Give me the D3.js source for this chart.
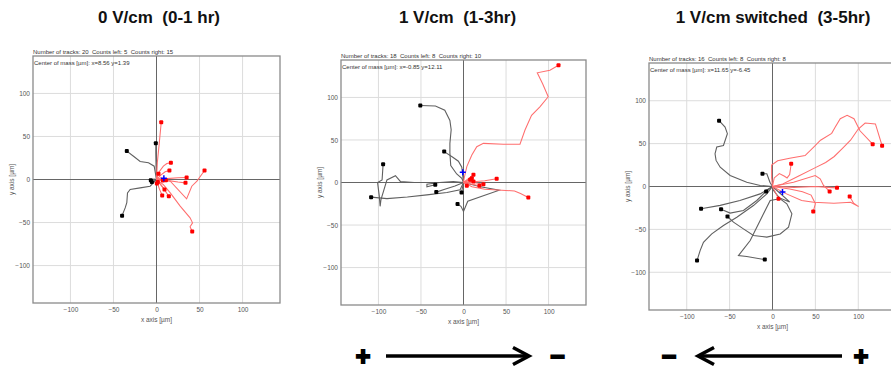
<!DOCTYPE html>
<html><head><meta charset="utf-8">
<script src="https://cdn.jsdelivr.net/npm/d3@7"></script>
<style>
html,body{margin:0;padding:0;background:#fff;}
svg{display:block;font-family:"Liberation Sans",Arial,sans-serif;}
text{white-space:pre;}
</style></head>
<body><svg id="c" width="891" height="371"></svg>
<script>
// ---------- data ----------
const tickValues = [-100, -50, 0, 50, 100];
const titles = ["0 V/cm  (0-1 hr)", "1 V/cm  (1-3hr)", "1 V/cm switched  (3-5hr)"];
const headers = [
  "Number of tracks: 20  Counts left: 5  Counts right: 15",
  "Number of tracks: 18  Counts left: 8  Counts right: 10",
  "Number of tracks: 16  Counts left: 8  Counts right: 8"
];
const centerLabels = [
  "Center of mass [µm]: x=8.56 y=1.39",
  "Center of mass [µm]: x=-0.85 y=12.11",
  "Center of mass [µm]: x=11.65 y=-6.45"
];
const centers = [[8.56, 1.39], [-0.85, 12.11], [11.65, -6.45]];
const xLabel = "x axis [µm]";
const yLabel = "y axis [µm]";

const p1Left = [
  [[0,0],[-2.7,15.5],[-9.3,19.4],[-19,21],[-26.7,27],[-34.5,33]],
  [[0,0],[-7.4,-7.8],[-19,-9.7],[-30.6,-11.6],[-33.7,-15.5],[-34.5,-27],[-36.4,-33],[-40,-42]],
  [[0,0],[-0.5,15],[-0.8,30],[-0.8,42]],
  [[0,0],[-3,0.5],[-6.6,-0.8]],
  [[0,0],[-3,-2],[-5.4,-3]]
];
const p1Right = [
  [[0,0],[1,20],[3,40],[5.5,66.6]],
  [[0,0],[2.3,8],[8,15.5],[12,18.6],[16.7,19.4]],
  [[0,0],[5,5],[10,9],[15,10.5]],
  [[0,0],[2.3,6.6]],
  [[0,0],[12,1],[25,2],[35,2.3]],
  [[0,0],[12,-1],[25,-3],[33.7,-3.9]],
  [[0,0],[16,-2],[35,-22.5],[41,-7.8],[47,-1.9],[55.8,10.5]],
  [[0,0],[8,-6],[16,-15.5],[27.5,-31],[39,-44.6],[41.9,-50.4],[39,-55],[41.5,-60.5]],
  [[0,0],[5,-6],[9.3,-11.6]],
  [[0,0],[3,-10],[6.6,-18.6]],
  [[0,0],[8,-10],[14.3,-19.4]],
  [[0,0],[1.5,-3]],
  [[0,0],[7.4,-1.2]],
  [[0,0],[5,2],[11,-0.8]],
  [[0,0],[0.4,-4.6]]
];
const p2Left = [
  [[0,0],[-2,5],[-8,10],[-15,20],[-16,35],[-16,46],[-14.5,62],[-16,73],[-22,85],[-33,90],[-50.8,90.6]],
  [[0,0],[-2,18],[-6,25],[-13,30],[-22.7,36.3]],
  [[0,0],[-12,0],[-39,0],[-58,0],[-74,1],[-80,8],[-90,3],[-97,-20],[-98,-28],[-99,-16],[-101,0],[-95.7,3],[-94.5,21.5]],
  [[0,0],[-4,-8.6],[-19.5,-11.7],[-43,-14.5],[-66,-17],[-90,-19],[-108.6,-17.2]],
  [[0,0],[-12,1],[-28,0],[-43,-2],[-43,-5],[-33.2,-2.7]],
  [[0,0],[-10,-4],[-22,-8],[-32,-11.3]],
  [[0,0],[-1,-5],[-2.3,-11.7]],
  [[0,0],[20,-5],[42,-9],[25,-15],[5,-22],[0,-34],[-3,-28],[-7,-25.4]]
];
const p2Right = [
  [[0,0],[0.8,5],[3.9,18.75],[9.8,32.4],[15.6,42],[23.4,46],[46.9,45],[66.4,45],[72.3,61.7],[80,79],[89.8,89],[99.6,100.8],[93,116],[86.7,129],[101.6,132],[111.7,137.9]],
  [[0,0],[10,-5],[25,-8],[45,-9],[60,-10],[67,-13],[76.2,-17.6]],
  [[0,0],[12,1],[25,2],[39,4.3]],
  [[0,0],[5,4],[11.7,9]],
  [[0,0],[9.8,5]],
  [[0,0],[12,0],[23.4,-2]],
  [[0,0],[10,-2],[18.75,-3.9]],
  [[0,0],[3.9,-3.9]],
  [[0,0],[11.7,1.2]],
  [[0,0],[7.8,3.1]]
];
const p3Left = [
  [[0,0],[-14.4,1.2],[-30,5],[-49.4,12.8],[-61,22.5],[-65.8,30.4],[-67,38.2],[-65,46],[-57.2,47.9],[-52.6,61.6],[-55.3,69.3],[-62.3,76.8]],
  [[0,0],[-3,5],[-6.6,14.8],[-11.7,14.8]],
  [[0,0],[-4,-3],[-7.4,-5.8]],
  [[0,0],[-14.4,-8.6],[-38,-16.3],[-61,-22],[-83.3,-26]],
  [[0,0],[-6.6,-4.7],[-18.3,-16.3],[-33.9,-28],[-49.4,-31],[-60,-26.5]],
  [[0,0],[1.2,-4.7],[9,-14.4],[16.7,-20.2],[22.6,-31.9],[18.7,-47.5],[9,-55.3],[-6.6,-59],[-22.2,-57.2],[-33.9,-49.4],[-45.5,-41.6],[-52.5,-35]],
  [[0,0],[-6.6,-8.6],[-22.2,-22.2],[-41.6,-35.8],[-57.2,-45.5],[-70.8,-55.3],[-80.5,-65],[-84.4,-74.7],[-88,-86.4]],
  [[0,0],[20,-18],[10,-14],[-2.7,-16.3],[-14.4,-39.7],[-26,-63],[-39.7,-80.5],[-30,-81.7],[-9,-85.2]]
];
const p3Right = [
  [[0,0],[-1,10],[-1,25],[6,30],[20,33],[38,36],[48,46],[56,54],[69,62],[73,69],[79,79],[87,83],[95,79],[102,65],[116.8,49.4]],
  [[0,0],[12,3],[30,12],[50,22],[62,28],[72,35],[81,44],[91,54],[100,67],[108,74],[120,73],[127.8,47.5]],
  [[0,0],[2,10],[8,15],[14,12],[17,10],[20,14],[21.8,26.5]],
  [[0,0],[24.5,5],[49.8,12.8],[55.6,9],[59.5,1.2],[66.6,-5.8]],
  [[0,0],[25,-1],[50,0],[65,-1],[75.2,-1.6]],
  [[0,0],[15,-8],[34,-16.3],[48,-18.3],[71.6,-19.5],[91,-18.3],[100.4,-23.4],[94.6,-19.5],[90,-11.7]],
  [[0,0],[20,-3],[35,-6],[45,-10],[50,-20],[47.5,-29.2]],
  [[0,0],[4,-8],[7,-14.4]]
];
const leftTracks = [p1Left, p2Left, p3Left];
const rightTracks = [p1Right, p2Right, p3Right];

// ---------- layout ----------
const boxes = [
  {l:33, t:56, r:280, b:303, d:143.5, tx:159},
  {l:341, t:60, r:586, b:305, d:144, tx:457.5},
  {l:649, t:63, r:896, b:310, d:144, tx:773}
];

const svg = d3.select("#c");
svg.append("rect").attr("width",891).attr("height",371).attr("fill","#fff");

boxes.forEach((B, i) => {
  const x = d3.scaleLinear().domain([-B.d, B.d]).range([B.l, B.r]);
  const y = d3.scaleLinear().domain([-B.d, B.d]).range([B.b, B.t]);
  const g = svg.append("g");
  const clipId = "clip" + i;
  svg.append("clipPath").attr("id", clipId).append("rect")
    .attr("x", B.l).attr("y", B.t).attr("width", B.r - B.l).attr("height", B.b - B.t);

  // title
  svg.append("text").attr("x", B.tx).attr("y", 23).attr("text-anchor","middle")
    .attr("font-size", 17).attr("font-weight","bold").attr("fill","#111").text(titles[i]);

  // grid
  const grid = g.append("g").attr("clip-path", `url(#${clipId})`);
  tickValues.filter(v => v !== 0).forEach(v => {
    grid.append("line").attr("x1", x(v)).attr("x2", x(v)).attr("y1", B.t).attr("y2", B.b)
      .attr("stroke","#dcdcdc").attr("stroke-width",1);
    grid.append("line").attr("y1", y(v)).attr("y2", y(v)).attr("x1", B.l).attr("x2", B.r)
      .attr("stroke","#dcdcdc").attr("stroke-width",1);
  });
  grid.append("line").attr("x1", x(0)).attr("x2", x(0)).attr("y1", B.t).attr("y2", B.b)
    .attr("stroke","#666").attr("stroke-width",1);
  grid.append("line").attr("y1", y(0)).attr("y2", y(0)).attr("x1", B.l).attr("x2", B.r)
    .attr("stroke","#666").attr("stroke-width",1);

  // box
  g.append("rect").attr("x", B.l).attr("y", B.t).attr("width", B.r - B.l).attr("height", B.b - B.t)
    .attr("fill","none").attr("stroke","#8a8a8a").attr("stroke-width",1.3);

  // axes (labels only)
  const ax = g.append("g").attr("transform", `translate(0,${B.b})`)
    .call(d3.axisBottom(x).tickValues(tickValues).tickSize(0).tickPadding(4));
  ax.select(".domain").remove();
  ax.selectAll("text").attr("font-size", 6.5).attr("fill","#555").attr("font-family","Liberation Sans, Arial, sans-serif");
  const ay = g.append("g").attr("transform", `translate(${B.l},0)`)
    .call(d3.axisLeft(y).tickValues(tickValues).tickSize(0).tickPadding(3));
  ay.select(".domain").remove();
  ay.selectAll("text").attr("font-size", 6.5).attr("fill","#555").attr("font-family","Liberation Sans, Arial, sans-serif");

  g.append("text").attr("x", (B.l + B.r) / 2).attr("y", B.b + 18.5)
    .attr("text-anchor","middle").attr("font-size",6.5).attr("fill","#555").text(xLabel);
  g.append("text").attr("transform", `translate(${B.l - 19},${(B.t + B.b) / 2}) rotate(-90)`)
    .attr("text-anchor","middle").attr("font-size",6.5).attr("fill","#555").text(yLabel);

  // header texts
  g.append("text").attr("x", B.l).attr("y", B.t - 1.8).attr("font-size", 6).attr("fill","#333").text(headers[i]);
  g.append("text").attr("x", B.l + 1).attr("y", B.t + 8.5).attr("font-size", 6).attr("fill","#333").text(centerLabels[i]);

  // tracks
  const line = d3.line().x(d => x(d[0])).y(d => y(d[1]));
  const tg = g.append("g").attr("clip-path", `url(#${clipId})`);
  tg.selectAll("path.l").data(leftTracks[i]).join("path")
    .attr("d", line).attr("fill","none").attr("stroke","#606060").attr("stroke-width",1.1);
  tg.selectAll("path.r").data(rightTracks[i]).join("path")
    .attr("d", line).attr("fill","none").attr("stroke","#ff6e6e").attr("stroke-width",1.05);
  tg.selectAll("rect.le").data(leftTracks[i]).join("rect")
    .attr("x", d => x(d[d.length-1][0]) - 2).attr("y", d => y(d[d.length-1][1]) - 2)
    .attr("width",4).attr("height",4).attr("rx",1).attr("fill","#000");
  tg.selectAll("rect.re").data(rightTracks[i]).join("rect")
    .attr("x", d => x(d[d.length-1][0]) - 2).attr("y", d => y(d[d.length-1][1]) - 2)
    .attr("width",4).attr("height",4).attr("rx",1).attr("fill","#ff0000");

  // center of mass
  const cx = x(centers[i][0]), cy = y(centers[i][1]);
  tg.append("path").attr("d", `M${cx-3},${cy}H${cx+3}M${cx},${cy-3}V${cy+3}`)
    .attr("stroke","#0000ff").attr("stroke-width",1.5);
});

// ---------- field direction arrows ----------
const arrows = [
  {x1: 386, x2: 529, y: 356, dir: 1, left: "+", right: "\u2212", lx: 363, rx: 557.5},
  {x1: 698, x2: 842, y: 356, dir: -1, left: "\u2212", right: "+", lx: 669, rx: 861}
];
arrows.forEach(A => {
  svg.append("line").attr("x1", A.x1).attr("x2", A.x2).attr("y1", A.y).attr("y2", A.y)
    .attr("stroke","#000").attr("stroke-width",3.5);
  const tip = A.dir > 0 ? A.x2 : A.x1;
  const back = tip - A.dir * 16;
  svg.append("path").attr("d", `M${back},${A.y-8.5}L${tip},${A.y}L${back},${A.y+8.5}`)
    .attr("fill","none").attr("stroke","#000").attr("stroke-width",3.5).attr("stroke-linejoin","miter");
  [[A.lx, A.left], [A.rx, A.right]].forEach(([tx, t]) => {
    svg.append("text").attr("x", tx).attr("y", A.y - 0.5).attr("text-anchor","middle").attr("dominant-baseline","central")
      .attr("font-size",25).attr("font-weight","bold").attr("fill","#000")
      .attr("stroke","#000").attr("stroke-width",1.8).attr("stroke-linejoin","miter").text(t);
  });
});
</script></body></html>
